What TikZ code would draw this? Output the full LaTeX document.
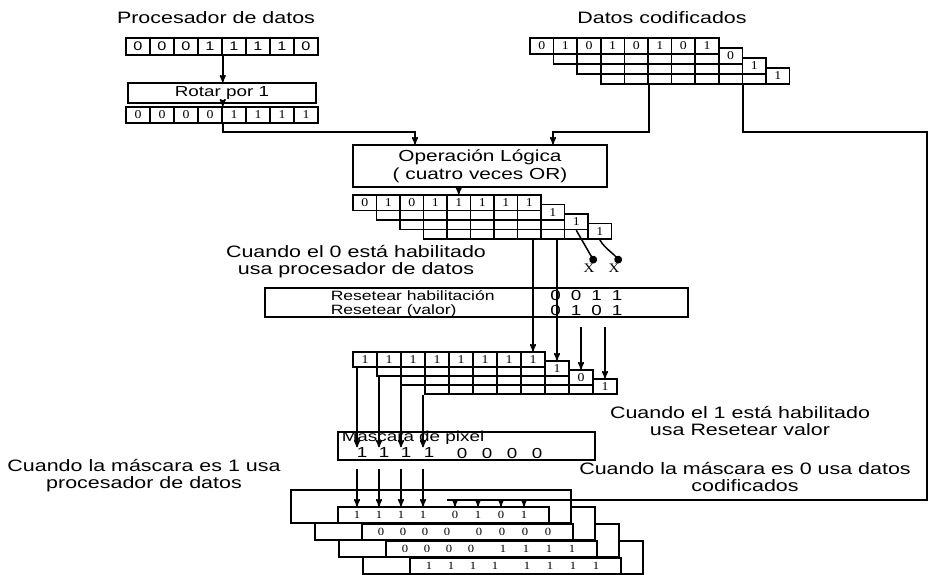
\documentclass[tikz,border=0pt]{standalone}
\usepackage{fontspec}
\setmainfont{Liberation Sans}[FakeStretch=1.3]
\newfontfamily\bitfont{Liberation Serif}[FakeStretch=1.15]
\usepackage{tikz}
\usetikzlibrary{arrows,positioning}

\newcommand{\lblsize}{\fontsize{16.5}{17}\selectfont}
\newcommand{\boxsize}{\fontsize{14.5}{15}\selectfont}

% four registers, each one cell to the right and a bit lower, drawn back to front;
% only the front register and the last cell of the others can be read
\newcommand{\regstack}[7]{%
  \foreach \k/\row in {#7} {
    \foreach \v [count=\i] in \row
      \node[cell, minimum width=#4, minimum height=#5] (#1-\k-\i)
        at ({#2+(\k+\i-0.5)*#4}, {#3+\k*#6+#5/2})
        {\ifnum\k=0 \v\else\ifnum\i=8 \v\fi\fi};
  }}

\begin{document}
\begin{tikzpicture}[x=1pt, y=-1pt, >=stealth', line width=1.5pt]
  \tikzstyle{cell}=[draw, fill=white, inner sep=0pt, font=\bitfont\fontsize{12}{12}\selectfont]
  \tikzstyle{box}=[draw, fill=white, inner sep=0pt, font=\boxsize]
  \tikzstyle{lbl}=[align=center, inner sep=0pt, font=\lblsize]
  \tikzstyle{num}=[inner sep=0pt, font=\boxsize]
  \tikzstyle{bit}=[inner sep=0pt, font=\bitfont\fontsize{11}{11}\selectfont]

  \useasboundingbox (0,0) rectangle (929,574);
  \fill[white] (0,0) rectangle (929,574);
  \clip (0,0) rectangle (929,574);

  % procesador de datos
  \node[lbl] (tproc) at (216,18) {Procesador de datos};
  \foreach \v [count=\i] in {0,0,0,1,1,1,1,0}
    \node[cell, font=\fontsize{12.5}{12}\selectfont, minimum width=24, minimum height=17]
      (pd-\i) at ({126+24*(\i-0.5)},46.5) {\v};
  \node[box, minimum width=188, minimum height=20] (rot) at (222,93) {Rotar por 1};
  \foreach \v [count=\i] in {0,0,0,0,1,1,1,1}
    \node[cell, minimum width=24, minimum height=16] (pr-\i) at ({126+24*(\i-0.5)},115) {\v};

  % datos codificados
  \node[lbl] (tcod) at (662,18) {Datos codificados};
  \regstack{dc}{530}{38}{23.6}{16}{10}{3/{0,1,0,1,0,1,0,1},2/{0,1,0,1,0,1,0,1},1/{1,0,1,0,1,0,1,0},0/{0,1,0,1,0,1,0,1}}

  % operacion logica
  \node[box, minimum width=254, minimum height=42, align=center, font=\fontsize{16}{18}\selectfont]
    (opl) at (480,166) {Operación Lógica\\( cuatro veces OR)};
  \regstack{lo}{353}{195}{23.5}{15.5}{9.5}{3/{1,0,1,1,1,1,1,1},2/{0,1,0,1,1,1,1,1},1/{1,0,1,1,1,1,1,1},0/{0,1,0,1,1,1,1,1}}
  \node[bit, font=\bitfont\fontsize{13}{13}\selectfont] (xa) at (589,268) {X};
  \node[bit, font=\bitfont\fontsize{13}{13}\selectfont] (xb) at (614,268) {X};
  \node[lbl] (lbl0) at (356,262) {Cuando el 0 está habilitado\\usa procesador de datos};

  % resetear
  \node[box, minimum width=423, minimum height=29] (rst) at (476.5,302.5) {};
  \node[num, anchor=west, font=\fontsize{13.5}{14}\selectfont] (rh) at (330,296) {Resetear habilitación};
  \node[num, anchor=west, font=\fontsize{13.5}{14}\selectfont] (rv) at (330,311) {Resetear (valor)};
  \foreach \v [count=\i] in {0,0,1,1} \node[num] (rh-\i) at ({535+20.5*\i},296) {\v};
  \foreach \v [count=\i] in {0,1,0,1} \node[num] (rv-\i) at ({535+20.5*\i},311) {\v};
  \regstack{rs}{353}{352}{24}{15}{9}{3/{1,0,1,1,1,1,1,1},2/{0,1,0,1,1,1,1,0},1/{1,0,1,1,1,1,1,1},0/{1,1,1,1,1,1,1,1}}
  \node[lbl] (lbl1) at (740,421) {Cuando el 1 está habilitado\\usa Resetear valor};

  % mascara
  \node[box, minimum width=257, minimum height=28] (mask) at (466.5,446) {};
  \node[num, anchor=west] (mtxt) at (341,438) {Mascara de pixel};
  \foreach \v/\x [count=\i] in {1/362,1/384,1/406,1/429,0/462,0/487,0/512,0/537}
    \node[num] (mk-\i) at (\x,453) {\v};
  \node[lbl] (lbl2) at (144,476) {Cuando la máscara es 1 usa\\procesador de datos};
  \node[lbl] (lbl3) at (745,477) {Cuando la máscara es 0 usa datos\\codificados};

  % resultado
  \foreach \k/\row in {3/{1,1,1,1,1,1,1,1},2/{0,0,0,0,1,1,1,1},1/{0,0,0,0,0,0,0,0},0/{1,1,1,1,0,1,0,1}} {
    \node[box, minimum width=280, minimum height=33] (fr-\k) at ({431+24*\k},{506.5+17*\k}) {};
    \node[box, minimum width=211, minimum height=16] (in-\k) at ({443.5+24*\k},{515+17*\k}) {};
    \foreach \v [count=\i] in \row
      \node[bit] (b-\k-\i) at ({357+24*\k+22*(\i-1)+(\i>4)*(\i+5)},{515+17*\k}) {\v};
  }

  \coordinate (jl) at (415,132);
  \coordinate (jr) at (553,132);
  \coordinate (ce1) at (927,132);
  \coordinate (ce2) at (927,500);
  \coordinate (ce3) at (447,500);

  \draw[->] (pd-4.south east) -- (pd-4.south east |- rot.north);
  \draw[->] (rot.south -| pr-4.north east) -- (pr-4.north east);
  \draw[->] (pr-4.south east) |- (jl) -- (jl |- opl.north);
  \draw[->] (dc-3-2.south east) |- (jr) -- (jr |- opl.north);
  \draw (dc-3-6.south east) |- (ce1) -- (ce2) -- (ce3);
  \draw[->] (opl.south -| lo-0-5.north) -- (lo-0-5.north);
  \draw[-*] (lo-2-8.south) to[out=-60,in=120] (xa.north east);
  \draw[-*] (lo-3-8.south) to[out=-60,in=120] (xb.north east);
  \draw[->] (lo-3-5.south -| rs-0-8.north) -- (rs-0-8.north);
  \draw[->] (lo-3-6.south -| rs-1-8.north) -- (rs-1-8.north);
  \draw[->] (rst.south -| rs-2-8.north) ++(0,9) -- (rs-2-8.north);
  \draw[->] (rst.south -| rs-3-8.north) ++(0,9) -- (rs-3-8.north);
  \foreach \i [evaluate=\i as \j using int(\i-1)] in {1,...,4} {
    \draw[->] (rs-\j-1.south -| b-0-\i) -- (b-0-\i |- mk-\i.north);
    \draw[->] (mask.south -| b-0-\i) ++(0,8) -- (b-0-\i |- in-0.north);
  }
  \foreach \i in {5,...,8}
    \draw[->] (b-0-\i |- ce3) -- (b-0-\i |- in-0.north);
\end{tikzpicture}
\end{document}
